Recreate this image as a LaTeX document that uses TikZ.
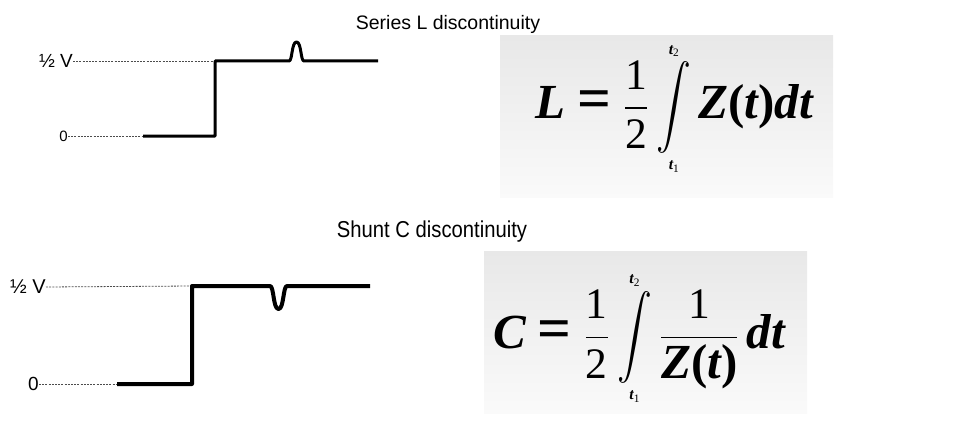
\documentclass[tikz,border=0pt]{standalone}
\usepackage{amsmath}
\usepackage{fontspec}
\setmainfont{Liberation Sans}
\newfontfamily\tnr{Liberation Serif}
\usetikzlibrary{positioning}

\newcommand{\bvar}[1]{\text{\tnr\fontsize{28}{30}\selectfont\bfseries\itshape #1}}
\newcommand{\rnum}[1]{\text{\tnr #1}}
\newcommand{\beq}{\mathrel{\text{\tnr\fontsize{34}{34}\selectfont\bfseries =}}}
\newcommand{\bpar}[1]{\text{\tnr\fontsize{28}{30}\selectfont\bfseries(\itshape #1\upshape)}}
\newcommand{\tlim}[2]{\raisebox{#2}[0pt][0pt]{\tnr\fontsize{9}{9}\selectfont\bfseries\itshape t\raisebox{-1.6pt}{\fontsize{6.5}{6.5}\selectfont\mdseries\upshape #1}}}
\newcommand{\bint}{\mathop{\vcenter{\hbox{\scalebox{0.8}[0.95]{$\displaystyle\int$}}}}\limits}

\begin{document}
\begin{tikzpicture}[
    x=1pt, y=-1pt,
    title/.style={font=\fontsize{#1}{#1}\selectfont, inner sep=0pt},
    level/.style={font=\fontsize{#1}{#1}\selectfont, inner sep=0pt, anchor=east},
    guide/.style={line width=0.8pt, black!70, dash pattern=on 2pt off 1.2pt},
    wave/.style={line width=#1, line join=round},
    wave/.default=3pt,
    eqbox/.style={rectangle, inner sep=0pt, top color=black!9, bottom color=black!2, draw=none},
    formula/.style={font=\Huge, scale=1.75, transform shape, inner sep=0pt},
]
    \useasboundingbox (0,0) rectangle (956,444);

    % series L
    \node[title=19.5] (titleL) at (448,24) {Series L discontinuity};
    \node[level=19] (halfL) at (73,61) {½ V};
    \node[level=15] (zeroL) at (68,136) {0};
    \coordinate (lowL) at (143,136);
    \coordinate (stepL) at (215,61);
    \draw[guide] (halfL.east) -- (stepL);
    \draw[guide] (zeroL.east) -- (lowL);
    \draw[wave] (lowL) -- (215,136) -- (stepL) -- (289,61)
        .. controls (292.5,61) and (291.5,42) .. (296.5,42)
        .. controls (301.5,42) and (300.5,61) .. (304,61) -- (378,61);

    \node[eqbox, minimum width=333pt, minimum height=161pt] (boxL) at (666.5,116.5) {};
    \node[formula] (eqL) at (674,107)
        {$\displaystyle \bvar{L} \beq \frac{\rnum{1}}{\rnum{2}}\bint_{\tlim{1}{7.4pt}}^{\tlim{2}{-13pt}}\bvar{Z}\bpar{t}\bvar{dt}$};

    % shunt C
    \node[title=23, xscale=0.88] (titleC) at (432,232) {Shunt C discontinuity};
    \node[level=20] (halfC) at (46,287) {½ V};
    \node[level=19] (zeroC) at (39,384) {0};
    \coordinate (lowC) at (117,384);
    \coordinate (stepC) at (192,286);
    \draw[guide] (halfC.east) -- (stepC);
    \draw[guide] (zeroC.east) -- (lowC);
    \draw[wave=4pt] (lowC) -- (192,384) -- (stepC) -- (270,286)
        .. controls (274,286) and (273,309) .. (278.5,309)
        .. controls (284,309) and (283,286) .. (287,286) -- (370,286);

    \node[eqbox, minimum width=323pt, minimum height=162pt] (boxC) at (645.5,332) {};
    \node[formula] (eqC) at (639,341)
        {$\displaystyle \bvar{C} \beq \frac{\rnum{1}}{\rnum{2}}\bint_{\tlim{1}{7.7pt}}^{\tlim{2}{-8.4pt}}\frac{\rnum{1}}{\bvar{Z}\bpar{t}}\,\bvar{dt}$};
\end{tikzpicture}
\end{document}
